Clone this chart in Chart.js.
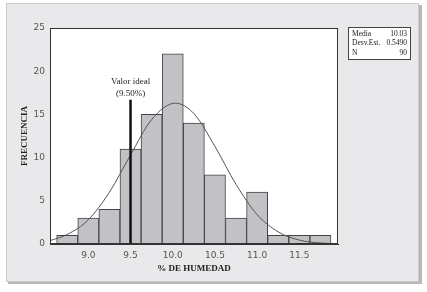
<!DOCTYPE html>
<html>
<head>
<meta charset="utf-8">
<script src="https://cdn.jsdelivr.net/npm/chart.js@4.4.0/dist/chart.umd.min.js"></script>
<style>
  html, body { margin: 0; padding: 0; background: #fff; }
  #wrap { width: 427px; height: 292px; position: relative; }
</style>
</head>
<body>
<div id="wrap"><canvas id="histChart" width="427" height="292"></canvas></div>
<script>
// bin centers (% humedad) and counts
var binCenters = [8.75, 9.0, 9.25, 9.5, 9.75, 10.0, 10.25, 10.5, 10.75, 11.0, 11.25, 11.5, 11.75];
var binCounts  = [1, 3, 4, 11, 15, 22, 14, 8, 3, 6, 1, 1, 1];

// fitted curve
var curveX = [8.55, 8.75, 9.0, 9.25, 9.5, 9.75, 10.03, 10.25, 10.5, 10.75, 11.0, 11.25, 11.5, 11.75, 11.95];
var curveY = [0.4, 1.1, 2.8, 6.0, 10.3, 14.4, 16.3, 15.1, 11.3, 6.9, 3.4, 1.4, 0.45, 0.12, 0.03];

var idealX = 9.5;
var idealTop = 16.7;

var xTicks = [9.0, 9.5, 10.0, 10.5, 11.0, 11.5];
var yTicks = [0, 5, 10, 15, 20, 25];

var statLabels = ['Media', 'Desv.Est.', 'N'];
var statValues = ['10.03', '0.5490', '90'];

var tickColor = '#555';
var serif = '"Liberation Serif", "DejaVu Serif", serif';

var panelPlugin = {
    id: 'panel',
    beforeDraw: function (chart) {
        var ctx = chart.ctx;
        ctx.save();
        ctx.fillStyle = '#fff';
        ctx.fillRect(0, 0, chart.width, chart.height);
        // shadow
        ctx.fillStyle = '#b8b8bb';
        ctx.fillRect(8, 281, 414, 3);
        ctx.fillRect(419, 5, 3, 279);
        ctx.fillStyle = '#e9e9eb';
        ctx.fillRect(6, 3, 413, 279);
        ctx.strokeStyle = '#c9c9cc';
        ctx.lineWidth = 1;
        ctx.strokeRect(6.5, 3.5, 412, 278);
        var a = chart.chartArea;
        ctx.fillStyle = '#fff';
        ctx.fillRect(a.left, a.top, a.right - a.left, a.bottom - a.top);
        ctx.restore();
    },
    afterDraw: function (chart) {
        var ctx = chart.ctx;
        var a = chart.chartArea;
        var xs = chart.scales.x, ys = chart.scales.y;
        ctx.save();
        // plot frame
        ctx.strokeStyle = '#333';
        ctx.lineWidth = 1;
        ctx.strokeRect(a.left + 0.5, a.top + 0.5, a.right - a.left - 1, a.bottom - a.top - 1);

        // ideal value label
        var px = xs.getPixelForValue(idealX);
        var py = ys.getPixelForValue(idealTop);
        ctx.fillStyle = '#222';
        ctx.font = '9px ' + serif;
        ctx.textAlign = 'center';
        ctx.textBaseline = 'middle';
        ctx.fillText('Valor ideal', px, py - 18);
        ctx.fillText('(9.50%)', px, py - 6);

        // stats box
        ctx.fillStyle = '#fff';
        ctx.fillRect(348, 27, 62, 32);
        ctx.strokeStyle = '#444';
        ctx.strokeRect(348.5, 27.5, 62, 32);
        ctx.fillStyle = '#222';
        ctx.font = '7.5px ' + serif;
        for (var i = 0; i < statLabels.length; i++) {
            ctx.textAlign = 'left';
            ctx.fillText(statLabels[i], 352, 34 + i * 9.5);
            ctx.textAlign = 'right';
            ctx.fillText(statValues[i], 407, 34 + i * 9.5);
        }
        ctx.restore();
    }
};

var ctx = document.getElementById('histChart').getContext('2d');
var histChart = new Chart(ctx, {
    type: 'bar',
    data: {
        datasets: [
            {
                type: 'line',
                data: curveX.map(function (x, i) { return { x: x, y: curveY[i] }; }),
                borderColor: '#555',
                borderWidth: 1,
                pointRadius: 0,
                fill: false,
                cubicInterpolationMode: 'monotone',
                order: 1
            },
            {
                type: 'line',
                data: [{ x: idealX, y: 0 }, { x: idealX, y: idealTop }],
                borderColor: '#111',
                borderWidth: 2.5,
                pointRadius: 0,
                fill: false,
                order: 0
            },
            {
                type: 'bar',
                data: binCenters.map(function (x, i) { return { x: x, y: binCounts[i] }; }),
                backgroundColor: '#c2c2c6',
                borderColor: '#444',
                borderWidth: 1,
                barPercentage: 1,
                categoryPercentage: 1,
                order: 2
            }
        ]
    },
    options: {
        responsive: false,
        animation: false,
        plugins: { legend: { display: false }, tooltip: { enabled: false } },
        layout: { padding: { left: 0, top: 28, right: 89, bottom: 0 } },
        scales: {
            x: {
                type: 'linear',
                min: 8.546,
                max: 11.958,
                offset: false,
                afterBuildTicks: function (s) { s.ticks = xTicks.map(function (v) { return { value: v }; }); },
                afterFit: function (s) { s.height = 48; },
                grid: { display: false, drawTicks: true, tickLength: 4, tickColor: '#444' },
                border: { color: '#333' },
                ticks: {
                    color: tickColor,
                    font: { family: '"DejaVu Sans", Verdana, sans-serif', size: 9 },
                    padding: 2,
                    maxRotation: 0,
                    callback: function (v) { return v.toFixed(1); }
                },
                title: {
                    display: true,
                    text: '% DE HUMEDAD',
                    color: '#222',
                    font: { family: serif, size: 9, weight: 'bold' },
                    padding: { top: 2, bottom: 18 }
                }
            },
            y: {
                min: 0,
                max: 25,
                afterBuildTicks: function (s) { s.ticks = yTicks.map(function (v) { return { value: v }; }); },
                afterFit: function (s) { s.width = 50; },
                grid: { display: false, drawTicks: true, tickLength: 4, tickColor: '#444' },
                border: { color: '#333' },
                ticks: {
                    color: tickColor,
                    font: { family: '"DejaVu Sans", Verdana, sans-serif', size: 9 },
                    padding: 1
                },
                title: {
                    display: true,
                    text: 'FRECUENCIA',
                    color: '#222',
                    font: { family: serif, size: 9, weight: 'bold' },
                    padding: { top: 19, bottom: 4 }
                }
            }
        }
    },
    plugins: [panelPlugin]
});
</script>
</body>
</html>
